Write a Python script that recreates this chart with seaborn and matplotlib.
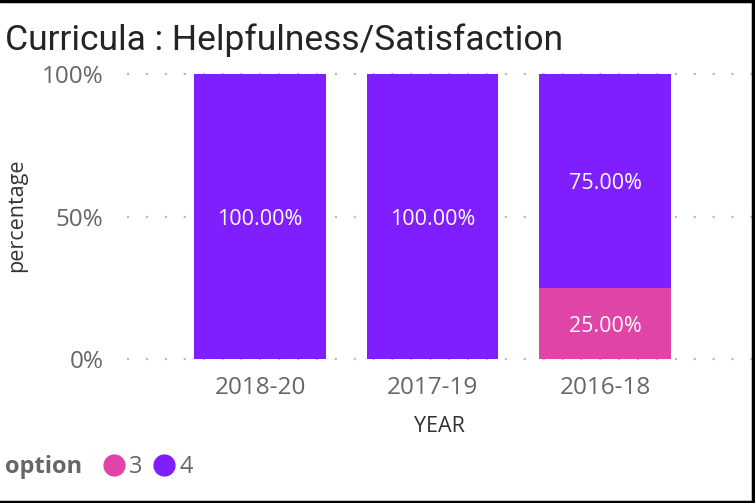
import numpy as np
import pandas as pd
import matplotlib.pyplot as plt
import seaborn as sns
from matplotlib.lines import Line2D

# chart data
years = ["2018-20", "2017-19", "2016-18"]
opt3 = [0, 0, 25]
opt4 = [100, 100, 75]
options = ["3", "4"]
colors = {"3": "#E044A7", "4": "#7F1FFF"}

df = pd.DataFrame({"YEAR": years, "3": opt3, "4": opt4})
df["total"] = df["3"] + df["4"]

sns.set_style("white")
plt.rcParams["font.family"] = ["Open Sans", "DejaVu Sans"]

fig = plt.figure(figsize=(7.55, 5.03), dpi=100)
ax = fig.add_axes([127 / 755, 1 - 359 / 503, (752 - 127) / 755, (359 - 74) / 503])

# stacked 100% columns: full height for option 4, option 3 drawn over the bottom
sns.barplot(data=df, x="YEAR", y="total", color=colors["4"], width=0.76,
            saturation=1, linewidth=0, ax=ax, zorder=3)
sns.barplot(data=df, x="YEAR", y="3", color=colors["3"], width=0.76,
            saturation=1, linewidth=0, ax=ax, zorder=3)

# labels in the middle of each segment
for i, row in df.iterrows():
    if row["3"] > 0:
        ax.text(i, row["3"] / 2 - 1, f"{row['3']:.2f}%", ha="center", va="center",
                color="white", fontsize=15.5, zorder=4)
    if row["4"] > 0:
        ax.text(i, row["3"] + row["4"] / 2 - 1, f"{row['4']:.2f}%", ha="center",
                va="center", color="white", fontsize=15.5, zorder=4)

ax.set_xlim(-0.771, 2.852)
ax.set_ylim(0, 100)
for y in [0, 50, 100]:
    ax.axhline(y, color="#BBBBBB", linestyle=(0, (1, 7.5)), linewidth=1.6,
               clip_on=False, zorder=1)
ax.set_yticks([0, 50, 100])
ax.set_yticklabels(["0%", "50%", "100%"])
for s in ax.spines.values():
    s.set_visible(False)
ax.tick_params(axis="y", length=0, pad=17, labelsize=17.5, labelcolor="#666666")
ax.tick_params(axis="x", length=0, pad=12, labelsize=17.5, labelcolor="#666666")
ax.set_xlabel("YEAR", fontsize=15.5, color="#333333", labelpad=12)
ax.set_ylabel("")
fig.text(17 / 755, 1 - 215 / 503, "percentage", rotation=90, ha="center",
         va="center", fontsize=15.5, color="#333333")

fig.text(5 / 755, 1 - 40 / 503, "Curricula : Helpfulness/Satisfaction",
         fontsize=25.5, color="#252423", family=["Roboto", "DejaVu Sans"],
         ha="left", va="center")

# legend
fig.text(5 / 755, 1 - 467 / 503, "option", fontsize=17, fontweight="bold",
         color="#666666", ha="left", va="center")
handles = [Line2D([], [], marker="o", linestyle="", markersize=15,
                  markerfacecolor=colors[o], markeredgecolor=colors[o]) for o in options]
fig.legend(handles, options, loc="center left", bbox_to_anchor=(88 / 755, 1 - 467 / 503),
           ncol=2, frameon=False, handletextpad=0.05, columnspacing=0.3,
           fontsize=17, labelcolor="#666666", handlelength=1.2, borderpad=0)

# frame lines along the edges
for xs, ys in [([0, 1], [0.998, 0.998]), ([0.998, 0.998], [0, 1]), ([0, 1], [0.002, 0.002])]:
    fig.add_artist(Line2D(xs, ys, color="black", linewidth=2.5, transform=fig.transFigure))

fig.savefig("out.png", dpi=100)
